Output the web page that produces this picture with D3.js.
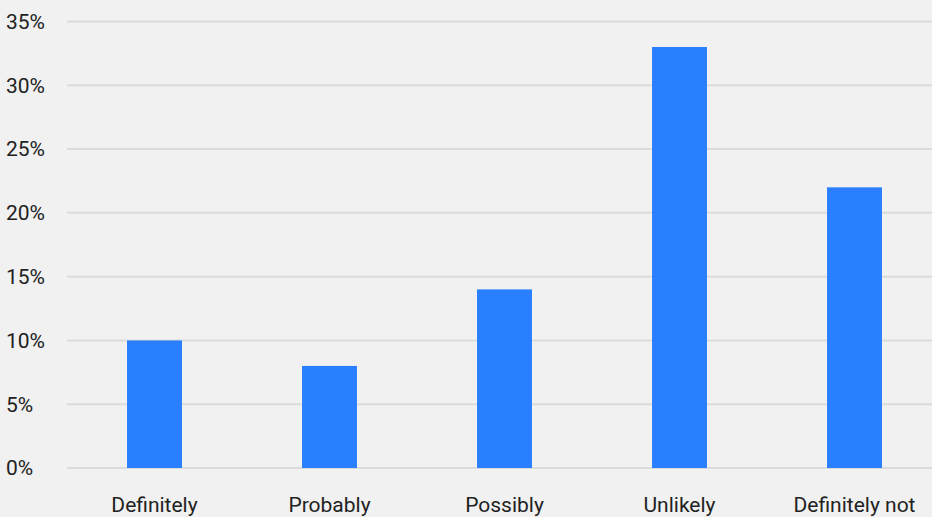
<!DOCTYPE html>
<html>
<head>
<meta charset="utf-8">
<script src="https://cdn.jsdelivr.net/npm/d3@7"></script>
<style>
  body { margin: 0; background: #f0f1f0; }
  svg { display: block; }
  text { font-family: Roboto, sans-serif; fill: #222; }
</style>
</head>
<body>
<svg id="chart" width="932" height="517"></svg>
<script>
// answers and share of respondents (%)
var categories = ["Definitely", "Probably", "Possibly", "Unlikely", "Definitely not"];
var shares = [10, 8, 14, 33, 22];
var yTicks = [0, 5, 10, 15, 20, 25, 30, 35];

var W = 932, H = 517;
var svg = d3.select("#chart");

var x = d3.scaleBand()
  .domain(categories)
  .range([67, 942])
  .paddingInner(0.686)
  .paddingOuter(0.343);

var y = d3.scaleLinear()
  .domain([0, 35])
  .range([468, 21.5]);

// grid
svg.append("g")
  .selectAll("line")
  .data(yTicks)
  .enter().append("line")
  .attr("x1", 67)
  .attr("x2", W)
  .attr("y1", function(d) { return y(d); })
  .attr("y2", function(d) { return y(d); })
  .attr("stroke", "#dadcdb")
  .attr("stroke-width", 2);

// y labels
svg.append("g")
  .selectAll("text")
  .data(yTicks)
  .enter().append("text")
  .attr("x", 6)
  .attr("y", function(d) { return y(d); })
  .attr("dy", "0.35em")
  .style("font-size", "21px")
  .text(function(d) { return d + "%"; });

// bars
svg.append("g")
  .selectAll("rect")
  .data(shares)
  .enter().append("rect")
  .attr("x", function(d, i) { return x(categories[i]); })
  .attr("width", x.bandwidth())
  .attr("y", function(d) { return y(d); })
  .attr("height", function(d) { return y(0) - y(d); })
  .attr("fill", "#2a7fff");

// x labels
svg.append("g")
  .selectAll("text")
  .data(categories)
  .enter().append("text")
  .attr("x", function(d) { return x(d) + x.bandwidth() / 2; })
  .attr("y", 505)
  .attr("dy", "0.35em")
  .attr("text-anchor", "middle")
  .style("font-size", "21px")
  .text(function(d) { return d; });
</script>
</body>
</html>
